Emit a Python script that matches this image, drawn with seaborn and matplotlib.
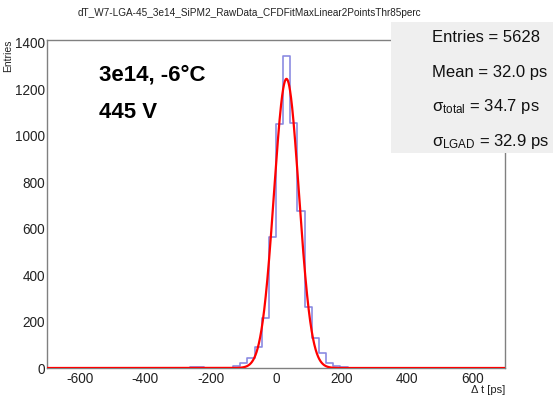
import numpy as np
import pandas as pd
import matplotlib
matplotlib.use("Agg")
import matplotlib.pyplot as plt
from matplotlib.patches import Rectangle
import seaborn as sns

# ---- data ---------------------------------------------------------------
# Histogram of time differences: 64 equal bins spanning [-700, 700] ps
hist_range = (-700.0, 700.0)
n_bins = 64
bin_counts = [
    0, 0, 0, 0, 0, 0, 0, 0, 0, 0,
    0, 0, 0, 0, 0, 0, 0, 0, 0, 0,
    3, 3, 0, 2, 0, 0, 7, 22, 43, 91,
    215, 563, 1050, 1345, 1057, 675, 264, 128, 66, 20,
    10, 3, 0, 0, 0, 0, 0, 0, 0, 0,
    0, 0, 0, 0, 0, 0, 0, 0, 0, 0,
    0, 0, 0, 0,
]

# Gaussian fit parameters (amplitude in entries per bin)
fit_amplitude = 1245.0
fit_mean = 32.0
fit_sigma = 38.0

plot_title = "dT_W7-LGA-45_3e14_SiPM2_RawData_CFDFitMaxLinear2PointsThr85perc"
stats_lines = [
    "Entries = 5628",
    "Mean = 32.0 ps",
    r"σ$_{\mathrm{total}}$ = 34.7 ps",
    r"σ$_{\mathrm{LGAD}}$ = 32.9 ps",
]
condition_lines = ["3e14, -6°C", "445 V"]

# ---- style --------------------------------------------------------------
sns.set_style("white")
plt.rcParams["font.family"] = ["Liberation Sans", "DejaVu Sans"]
plt.rcParams["mathtext.fontset"] = "custom"
plt.rcParams["mathtext.rm"] = "Liberation Sans"
plt.rcParams["mathtext.it"] = "Liberation Sans:italic"
plt.rcParams["mathtext.bf"] = "Liberation Sans:bold"
plt.rcParams["axes.unicode_minus"] = False

W, H = 553, 400
fig = plt.figure(figsize=(W / 100, H / 100), dpi=100)
ax = fig.add_axes([47 / W, 1 - 368 / H, (505 - 47) / W, (368 - 40) / H])

edges = np.linspace(hist_range[0], hist_range[1], n_bins + 1)
centers = 0.5 * (edges[:-1] + edges[1:])
df = pd.DataFrame({"dt": centers, "n": bin_counts})

sns.histplot(data=df, x="dt", weights="n", bins=n_bins, binrange=hist_range,
             element="step", fill=False, color="#7676dc", linewidth=1.2,
             alpha=0.85, ax=ax)

xf = np.linspace(hist_range[0], hist_range[1], 2801)
fit_df = pd.DataFrame({
    "dt": xf,
    "f": fit_amplitude * np.exp(-0.5 * ((xf - fit_mean) / fit_sigma) ** 2),
})
sns.lineplot(data=fit_df, x="dt", y="f", color="#ff0000", linewidth=1.6,
             ax=ax, zorder=3)

ax.set_xlim(*hist_range)
ax.set_ylim(0, 1.05 * max(bin_counts))
ax.set_xticks(np.arange(-600, 601, 200))
ax.set_xticks(np.arange(-700, 701, 50), minor=True)
ax.set_yticks(np.arange(0, 1401, 200))
ax.set_yticks(np.arange(0, 1401, 50), minor=True)

frame_col = "#808080"
for s in ax.spines.values():
    s.set_color(frame_col)
    s.set_linewidth(1.0)
ax.tick_params(axis="both", which="both", direction="in", color=frame_col,
               labelsize=9.8, labelcolor="#222222", width=1.0)
ax.tick_params(axis="x", which="major", length=8, pad=3)
ax.tick_params(axis="x", which="minor", length=4)
ax.tick_params(axis="y", which="major", length=13, pad=1.5)
ax.tick_params(axis="y", which="minor", length=7)
ax.set_xlabel("")
ax.set_ylabel("")

# axis titles placed the ROOT way: at the far ends of the axes
fig.text(505 / W, 1 - 390 / H, "Δ t [ps]", ha="right", va="center",
         fontsize=8, color="#222222")
fig.text(8 / W, 1 - 40 / H, "Entries", ha="center", va="top",
         rotation=90, fontsize=7.5, color="#222222")

fig.text(249 / W, 1 - 13 / H, plot_title, ha="center", va="center",
         fontsize=7.2, color="#222222")

for i, line in enumerate(condition_lines):
    fig.text(99 / W, 1 - (75 + 37 * i) / H, line, ha="left", va="center",
             fontsize=16, fontweight="bold", color="#000000")

# statistics box
box = Rectangle((391 / W, 1 - 153 / H), (W - 391) / W, (153 - 22) / H,
                transform=fig.transFigure, facecolor="#efefef",
                edgecolor="none", zorder=5)
fig.patches.append(box)
for i, line in enumerate(stats_lines):
    fig.text(432 / W, 1 - (38 + 34.5 * i) / H, line, ha="left", va="center",
             fontsize=12.0, color="#111111", zorder=6)

fig.savefig("out.png", dpi=100)
